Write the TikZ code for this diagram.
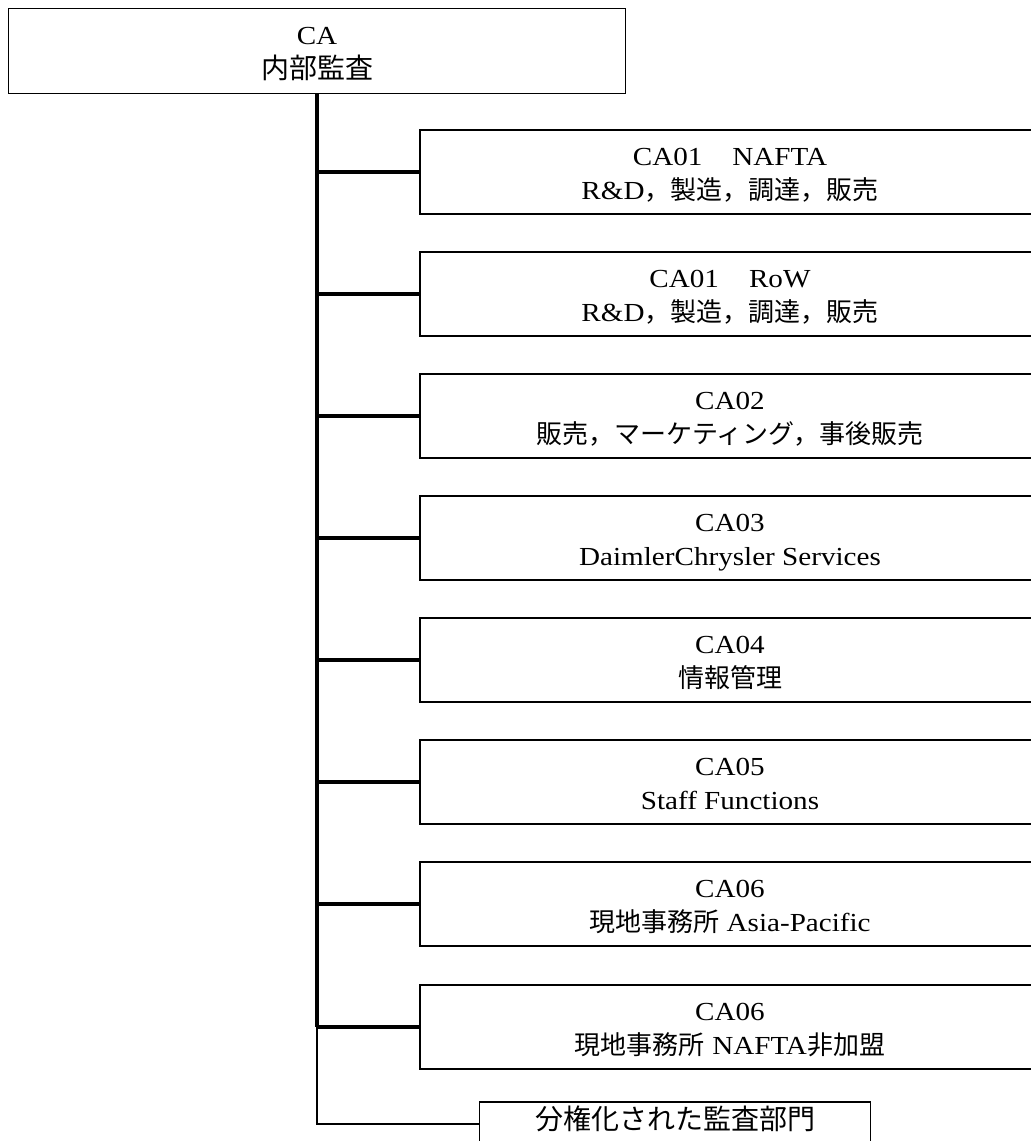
\documentclass[tikz,border=0pt]{standalone}
\usepackage{fontspec}
\setmainfont{Liberation Serif}[FakeStretch=1.12]
\newfontfamily\jp{Noto Sans CJK JP}
\newcommand\lsa{\rule{0pt}{29pt}}
\newcommand\lsb{\rule[-8pt]{0pt}{8pt}}
\newcommand\lsd{\rule[-13.5pt]{0pt}{13.5pt}}
\begin{document}
\begin{tikzpicture}[x=1pt,y=-1pt,
  box/.style={draw, line width=1.6pt, minimum width=620, minimum height=84, align=center,
    inner sep=0pt, font=\fontsize{26}{34}\selectfont},
  topbox/.style={draw, line width=1.8pt, minimum width=617, minimum height=85, align=center,
    inner sep=0pt, font=\fontsize{26}{34}\selectfont},
  decbox/.style={draw, line width=1.6pt, minimum width=391, minimum height=44, align=center,
    inner sep=0pt, font=\fontsize{28}{34}\selectfont},
  spine/.style={line width=4.5pt},
  conn/.style={line width=3.5pt},
  thinconn/.style={line width=2pt}]
\useasboundingbox (0,0) rectangle (1031,1141);
\clip (0,0) rectangle (1031,1141);
\fill[white] (0,0) rectangle (1031,1141);

\node[topbox] (top) at (317,51) {\lsa CA\\\lsb{\jp\fontsize{28}{34}\selectfont 内部監査}};

\node[box] (b1) at (730,172) {\lsa CA01\hspace{30pt}NAFTA\\\lsb R\&D{\jp ，製造，調達，販売}};
\node[box] (b2) at (730,294) {\lsa CA01\hspace{30pt}RoW\\\lsb R\&D{\jp ，製造，調達，販売}};
\node[box] (b3) at (730,416) {\lsa CA02\\\lsb{\jp 販売，マーケティング，事後販売}};
\node[box] (b4) at (730,538) {\lsa CA03\\\lsb DaimlerChrysler Services};
\node[box] (b5) at (730,660) {\lsa CA04\\\lsb{\jp 情報管理}};
\node[box] (b6) at (730,782) {\lsa CA05\\\lsb Staff Functions};
\node[box] (b7) at (730,904) {\lsa CA06\\\lsb{\jp 現地事務所} Asia-Pacific};
\node[box] (b8) at (730,1027) {\lsa CA06\\\lsb{\jp 現地事務所} NAFTA{\jp 非加盟}};

\node[decbox] (dec) at (675,1124) {\lsd{\jp 分権化された監査部門}};

\draw[spine] (top.south) -- (top.south |- b8.west);
\foreach \b in {b1,b2,b3,b4,b5,b6,b7,b8}
  \draw[conn] (top.south |- \b.west) -- (\b.west);
\draw[thinconn] (top.south |- b8.west) |- (dec.west);
\end{tikzpicture}
\end{document}
